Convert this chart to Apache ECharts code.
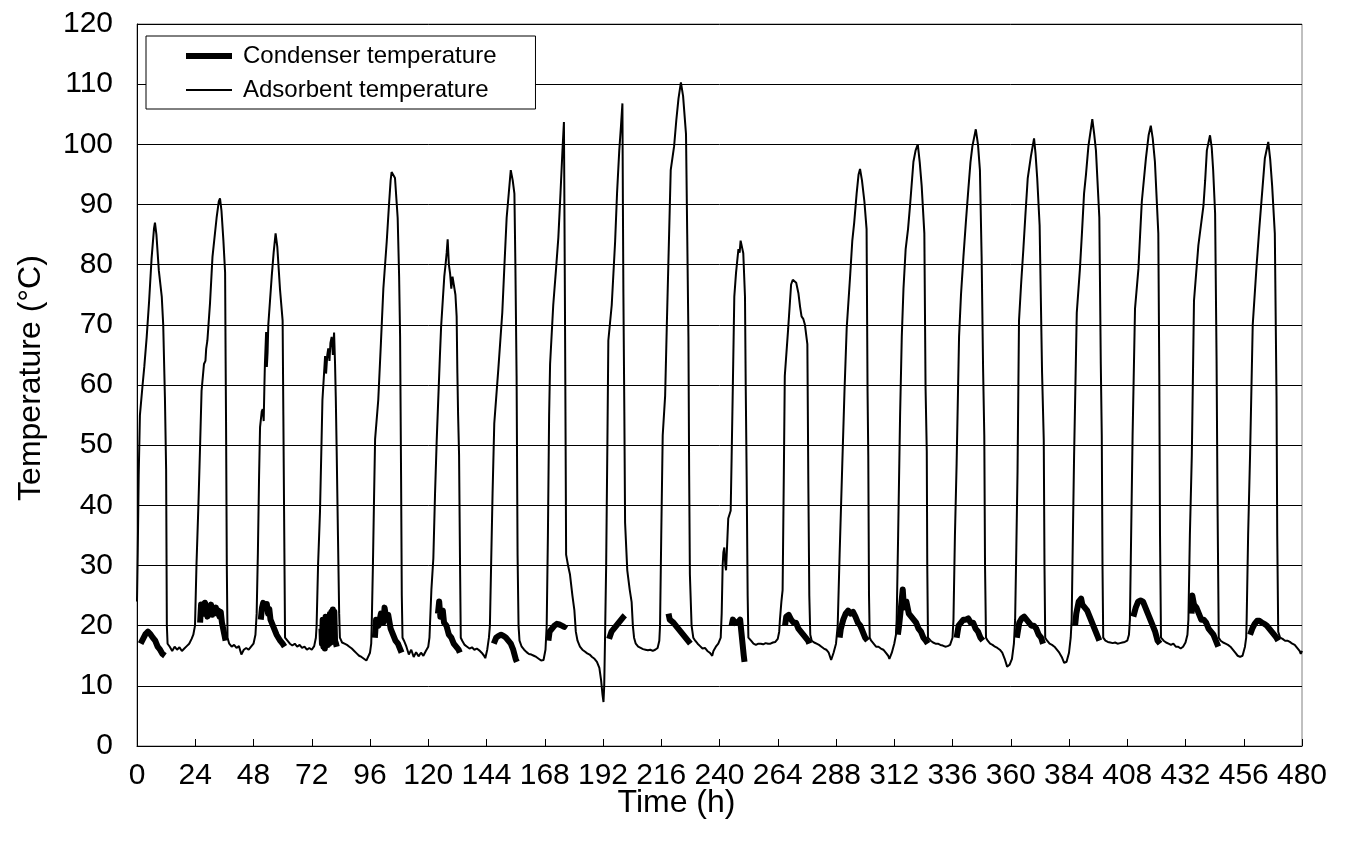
<!DOCTYPE html>
<html>
<head>
<meta charset="utf-8">
<script src="https://cdn.jsdelivr.net/npm/echarts@6/dist/echarts.min.js"></script>
<style>
html,body{margin:0;padding:0;background:#fff;}
#chart{width:1348px;height:845px;}
</style>
</head>
<body>
<div id="chart"></div>
<script>
// x-axis ticks (h) and y-axis range
const xTicks = [0,24,48,72,96,120,144,168,192,216,240,264,288,312,336,360,384,408,432,456,480];
const yRange = [0,120];

// Adsorbent temperature [time h, °C]
const adsorbent = [
[0,24],[0.3,32],[0.7,45],[1.2,55],[2.3,60],[3,63],[4,68],[5,74],[6,81],[7,86],[7.4,87],[8,85],[9,79],[10.2,74.7],[10.8,70],[11.5,58],[12,46],[12.3,20],[12.6,17],
[13.5,16.5],[14.5,15.8],[15.5,16.5],[16.5,16],[17.5,16.4],[18.5,15.8],[19.5,16.2],[20.5,16.6],[21.5,17],[22.5,17.8],[23.2,18.5],
[23.9,20],[24.5,30],[25.3,40],[26,50],[26.6,59],[27.6,63.5],[28.2,64],[28.5,66],[29,67.4],[30.1,73.7],[31.1,81.3],[32.8,87.8],[33.7,90.5],[34.2,91],[34.8,89],[35.6,84],[36.3,78.7],[36.5,65],[36.7,53],[37,30],[37.3,18],
[38,17],[39,16.5],[40,16.8],[41,16.3],[42,16.6],[43,15.2],[44,16],[45,16.3],[46,16],[47,16.5],[48,17],[48.8,18.5],
[49.3,22],[49.8,32],[50.3,45],[50.7,53],[51.4,55.6],[51.8,56],[52.2,54],[52.5,60],[52.7,63.5],[53.2,68.8],[53.5,63],[53.8,65.4],[54.1,70],[55.5,78],[56.3,82],[57.1,85.2],[57.8,83],[58.9,76],[60,70.7],[60.3,55],[60.6,39],[61,18],
[62,17.5],[63,17],[64,16.7],[65,17],[66,16.5],[67,16.8],[68,16.3],[69,16.5],[70,16],[71,16.3],[72,16],[73,16.6],[73.7,18],
[74,20],[74.6,30],[75.4,39],[76,50],[76.4,57.5],[77.5,64.8],[77.9,61.9],[78.4,65],[78.8,66.1],[79.3,64],[79.7,67],[80.2,68],[80.7,65],[81.2,68.7],[81.6,63.5],[81.9,58],[82.3,48.3],[82.8,35],[83.3,22],[83.6,18],
[84.5,17.2],[85.5,17],[86.5,16.8],[87.5,16.5],[88.5,16.2],[89.5,15.8],[90.5,15.4],[91.5,15],[92.5,14.8],[93.5,14.5],[94.5,14.2],[95.2,14],[96,15.5],[96.5,17],
[96.7,20],[97.2,30],[97.7,42],[98.1,51],[99.4,57.5],[100.5,67],[101.5,76],[102.9,83.9],[103.8,89.8],[104.5,94],[104.9,95.4],[106.3,94.4],[107.4,87.8],[108,78],[108.4,68],[108.8,45],[109.1,25],[109.4,18],
[110,17.5],[111,16.5],[112,15.2],[113,16],[114,14.8],[115,15.6],[116,14.9],[117,15.5],[118,15],[119,15.8],[120,16.5],[120.5,18],
[120.7,20],[121.3,26],[122.1,31.2],[122.8,42],[123.5,51],[124.8,64.8],[125.3,69.7],[126.6,78],[127.2,80.3],[127.6,82],[128,84.2],[128.5,80],[129,78.5],[129.5,76],[130,78],[130.5,78.3],[131.2,75],[131.7,71.4],[132,62],[132.3,55],[132.7,48.3],[133.1,30],[133.4,18],
[134,17.5],[135,16.8],[136,16.5],[137,16.2],[138,16.4],[139,16],[140,16.2],[141,15.9],[142,15.5],[143,15],[143.5,14.6],[144.3,16],[145,18],
[145.4,20],[145.9,30],[146.5,42],[147.2,53.6],[148.9,62.8],[150.5,72],[151.4,80],[152.3,87.8],[153.2,92],[154,95.7],[154.8,94],[155.5,91.8],[155.9,80],[156.4,61.5],[156.8,31.8],[157.2,20],[157.6,17.5],
[158.5,16.5],[159.5,16],[160.5,15.6],[161.5,15.3],[162.5,15.2],[163.5,15],[164.5,14.8],[165.5,14.5],[166.5,14.2],[167.5,14.3],[168.3,16],
[168.8,20],[169.3,35],[169.8,55],[170.2,63.5],[171.5,73.3],[172.6,79],[173.6,84.5],[174.5,92],[175.3,99],[175.9,103.7],[176.1,90],[176.3,74.7],[176.6,50],[176.8,31.8],[177.6,30],[178.4,28.5],[179.4,25],[180.2,22.6],[180.8,19],[181.5,17.5],
[182.5,16.5],[183.5,16],[184.5,15.7],[185.5,15.4],[186.5,15.2],[187.5,14.8],[188.5,14.5],[189.5,14],[190.5,13],[191.2,11],[191.8,8.5],[192.2,7.3],[192.5,10],[192.8,17],
[193.3,30],[193.8,50],[194.2,67.4],[195.6,73.3],[197,83.9],[197.8,92],[198.7,99],[199.4,103],[200,106.8],[200.2,90],[200.4,75.3],[200.8,55],[201.1,37.1],[202,29.2],[203,26],[203.8,23.9],[204.3,20],[204.8,18],
[205.5,17],[206.5,16.5],[207.5,16.3],[208.5,16.1],[209.5,16],[210.5,15.9],[211.5,16],[212.5,15.8],[213.5,16],[214.5,16.3],[215.2,17.5],
[215.5,20],[216,35],[216.6,51.6],[217.6,58.2],[218.3,70],[219,81.3],[219.9,95.7],[221.3,99.7],[222.2,104],[223.1,107.6],[224.1,110.3],[225,108],[226.2,101.7],[226.7,85],[227.2,68],[227.5,45],[227.8,28.5],[228.5,20],[229.2,18],
[230,17.5],[231,17],[232,16.6],[233,16.2],[234,16.3],[235,15.8],[236,15.5],[237,15],[237.5,15.8],[238.5,16.5],[239.5,17],[240.5,18],
[240.9,22],[241.3,30],[241.6,32.2],[242,33],[242.4,30],[242.7,29.2],[243.2,34],[243.6,37.8],[244.6,39.1],[245,48],[245.4,57.5],[246.1,74.7],[246.8,78.6],[247.8,82.6],[248.3,82],[248.7,84],[249.2,84.2],[249.8,81.9],[250.5,74.7],[250.8,60],[251.2,44.3],[251.6,25],[251.9,18],
[253,17.5],[254,17],[255,16.8],[256,17],[257,17],[258,16.9],[259,17.1],[260,17],[261,17],[262,17.2],[263,17.3],[264,17.8],[264.6,19],
[264.9,21],[265.5,24],[266,25.9],[266.5,45],[266.9,61.5],[268.3,69.4],[269.5,76.7],[270.2,77.5],[270.8,77.8],[271.6,77],[272.5,75.3],[273.2,73],[273.8,71.4],[274.5,71],[275.2,70],[276.2,66.8],[276.6,43.7],[277,25],[277.4,18.5],
[278,17.5],[279,17.2],[280,17],[281,16.8],[282,16.5],[283,16.2],[284,16],[285,15.5],[286,14.3],[287,15.5],[288,17],
[288.7,20],[289.5,32],[290.6,47],[291.5,59],[292.4,69.4],[293.8,78],[294.7,83.9],[295.5,87],[296.5,91.8],[297.3,95],[297.9,95.9],[298.7,94],[299.7,90.5],[300.6,85.9],[301,58.9],[301.3,48.3],[301.6,25],[301.9,18],
[302.5,17.5],[303.5,17],[304.5,16.5],[305.5,16.5],[306.5,16.2],[307.5,16],[308.5,15.5],[309.5,15],[310,14.5],[311,15.5],[312,17],[312.7,18.5],
[313,21],[313.6,35],[314.4,54.9],[315.1,68],[315.8,76],[316.7,82.6],[317.7,86],[318.5,89.8],[319.9,97.1],[320.8,99],[321.7,100],[322.5,97],[323.3,93.1],[324.4,85.2],[324.9,59.5],[325.4,49],[325.6,30],[325.9,18],
[327,17.5],[328,17.2],[329,17],[330,17],[331,16.8],[332,16.7],[333,16.5],[334,16.6],[335,16.8],[336,18],
[336.4,21],[337,35],[337.7,47],[338.7,68],[339.5,75],[340.5,81.3],[341.5,87],[342.5,92.4],[343.4,97],[344.2,99.7],[345.6,102.5],[346.5,100],[347.3,95.7],[348,81.3],[348.6,62.8],[349.1,51.6],[349.4,30],[349.8,18],
[350.5,17.5],[351.5,17],[352.5,16.8],[353.5,16.5],[354.5,16.3],[355.5,16],[356.5,15.5],[357.5,14.5],[358.5,13.2],[359.5,13.5],[360.5,14.5],[361.3,17],
[361.8,21],[362.3,33],[362.8,45.7],[363.4,70.7],[364.3,77],[365.2,82.6],[366,88],[367,94.4],[368.3,98],[369.6,101],[370.2,98.5],[370.9,94.4],[371.9,86.5],[372.9,62.1],[373.6,50.9],[373.9,30],[374.2,18],
[375,17.5],[376,17],[377,16.8],[378,16.5],[379,16],[380,15.5],[381,14.8],[382,13.8],[383,14],[384,15.5],[384.7,18],
[385.1,21],[385.6,35],[386.1,48.3],[387.2,72],[388.5,79.3],[389.3,85],[390.2,91.8],[391,95],[392,99.7],[393,102.5],[393.6,104.2],[394.3,102],[395.1,99],[396.5,87.8],[397.1,63.5],[397.5,51.6],[397.8,30],[398.1,18],
[399,17.5],[400,17.3],[401,17.2],[402,17.1],[403,17.2],[404,17],[405,17.1],[406,17.2],[407,17.3],[408,17.5],[408.7,18.5],
[409.1,21],[409.6,35],[410.2,51.6],[411.2,72.7],[412.6,79.3],[413.3,85],[414,90.5],[415.7,97.7],[416.8,101.5],[417.7,103.1],[418.5,101],[419.4,97.1],[420.8,85.2],[421.2,61.5],[421.5,35],[421.9,18],
[423,17.5],[424,17.2],[425,17],[426,16.8],[427,17],[428,16.5],[429,16.5],[430,16.2],[431,16.5],[432,17.2],[432.8,18.5],
[433.2,21],[433.8,35],[434.6,48.3],[435.5,74],[437.3,83.2],[439.4,89.8],[440.1,94],[440.8,99],[442.1,101.5],[442.8,99.5],[443.4,95.7],[444.2,88.5],[444.8,64.1],[445.2,40],[445.7,18],
[446.5,17.5],[447.5,17.2],[448.5,17],[449.5,16.8],[450.5,16.5],[451.5,16],[452.5,15.5],[453.5,15],[454.5,14.8],[455.5,15],[456.5,16.5],[457,18],
[457.2,21],[457.8,35],[458.6,48.3],[459.7,70],[461.3,79.9],[462.4,86],[463.4,91.1],[464.7,97.7],[466.1,100.4],[466.9,97.5],[467.7,93.1],[468.8,85.2],[469.5,58.2],[469.8,35],[470.2,19],
[471,18],[472,17.8],[473,17.5],[474,17.5],[475,17.3],[476,17],[477,16.8],[478,16.3],[479,15.8],[479.5,15.3],[480,15.8]
];

// Condenser temperature, one daytime segment per cycle [time h, °C]
const condenser1 = [[1.5,17],[2.5,17.8],[3.5,18.6],[4.5,19],[5.5,18.6],[6.5,18],[7.5,17.5],[8.5,16.5],[9.5,16],[10.5,15.3],[11.5,15]];
const condenser2 = [[26,20.5],[26.4,23.5],[27,23.8],[27.5,22],[28,23.8],[28.5,23.2],[29,21.5],[29.5,23],[30,22],[30.5,23.5],[31,21.8],[31.5,22.8],[32,22.3],[32.5,23],[33,22],[33.5,22.5],[34,21.5],[34.5,22.3],[35,20.5],[35.5,19.5],[36,18.5],[36.5,17.5]];
const condenser3 = [[51,21],[51.5,23],[52,23.8],[52.5,24],[53,23.2],[53.5,23.6],[54,22],[54.5,22.8],[55,21],[55.5,21.2],[56,20],[56.5,19.5],[57,19.2],[57.5,18.5],[58,18.3],[59,17.5],[60,17],[60.8,16.5]];
const condenser4 = [[76,19.5],[76.2,17],[76.5,21],[76.8,16.5],[77.1,20.5],[77.4,16.2],[77.7,21.5],[78,17],[78.3,21],[78.6,16.8],[78.9,21.5],[79.2,17],[79.5,22],[79.8,17.2],[80.1,22.3],[80.4,17.5],[80.7,22.7],[81,18],[81.3,22.3],[81.6,17.5],[82,17],[82.3,16.5]];
const condenser5 = [[98,18],[98.5,21],[99.5,20],[100.5,22],[101.5,20.5],[102,23],[102.8,21],[103.5,21.8],[104.5,19.5],[105.5,18.5],[106.5,17.5],[107.5,17],[108.5,16],[109,15.5]];
const condenser6 = [[124,22],[124.5,24],[125,21.5],[126,22.5],[126.5,20.5],[127.5,20],[128.5,18.5],[129.5,18],[130.5,17],[131.5,16.5],[132.5,16],[133,15.5]];
const condenser7 = [[147,17],[148,18],[149,18.3],[150,18.5],[151,18.3],[152,18],[153,17.5],[154,17],[155,16],[156,14.5],[156.5,14]];
const condenser8 = [[169.5,17.5],[170,19],[171,19.5],[172,20],[173,20.3],[174,20.2],[175,20],[176,19.8],[176.6,20.2]];
const condenser9 = [[194.5,17.8],[195.5,19],[196.5,19.5],[197.5,20],[198.5,20.5],[199.5,21],[200.5,21.5],[201,21.7]];
const condenser10 = [[219,22],[219.5,21],[221,20.5],[222,20],[223,19.5],[224,19],[225,18.5],[226,18],[227,17.5],[228,17]];
const condenser11 = [[245,20],[245.5,21],[246.5,20.5],[247.5,20.5],[248.5,21],[249,19],[249.5,17],[250,15],[250.3,14]];
const condenser12 = [[267,20],[267.5,21.5],[268.5,21.8],[269.5,21],[270.5,20.5],[271.5,20.5],[272.5,19.5],[273.5,19],[274.5,18.5],[275.5,18],[276.5,17.5],[277,17]];
const condenser13 = [[289.5,18],[290,19.5],[291,21],[292,22],[293,22.5],[294,22],[295,22.3],[296,21.5],[297,20.5],[298,20],[299,19],[300,18],[301,17.5]];
const condenser14 = [[313.5,18.5],[314,20],[315,24],[315.5,26],[316,23],[317,24],[318,22],[319,21.5],[320,21],[321,20.5],[322,19.5],[323,19],[324,18],[325,17.5],[325.8,17]];
const condenser15 = [[337.7,18],[338.5,20],[339.5,20.5],[340.5,21],[341.5,21],[342.5,21.2],[343.5,20.5],[344.5,20.5],[345.5,19.5],[346.5,19],[347.5,18],[348.5,17.5]];
const condenser16 = [[362.5,18],[363.5,20.5],[364.5,21.2],[365.5,21.5],[366.5,21],[367.5,20.5],[368.5,20],[369.5,20],[370.5,19.5],[371.5,18.5],[372.5,18],[373.3,17]];
const condenser17 = [[386.5,20],[387,22],[388,24],[389,24.5],[389.5,23.5],[390.5,23],[391.5,22.5],[392.5,21.5],[393.5,20.5],[394.5,19.5],[395.5,18.5],[396.5,17.5]];
const condenser18 = [[410.5,21.5],[411.5,23],[412.5,24],[413.5,24.2],[414.5,24],[415.5,23],[416.5,22],[417.5,21],[418.5,20],[419.5,19],[420.5,17.5],[421.5,17]];
const condenser19 = [[434.5,22],[434.8,25],[435.5,23.5],[436.5,23],[437.5,22],[438.5,21],[439.5,21],[440.5,20.5],[441.5,19.5],[442.5,19],[443.5,18.5],[444.5,17.5],[445.5,16.5]];
const condenser20 = [[458.6,18.5],[459.5,19.5],[460.5,20.3],[461.5,20.8],[462.5,20.8],[463.5,20.5],[464.5,20.3],[465.5,20],[466.5,19.5],[467.5,19],[468.5,18.5],[469.5,18],[470.2,17.5]];

const condenserSegments = [condenser1,condenser2,condenser3,condenser4,condenser5,condenser6,condenser7,condenser8,condenser9,condenser10,
  condenser11,condenser12,condenser13,condenser14,condenser15,condenser16,condenser17,condenser18,condenser19,condenser20];

const FONT = '"Liberation Sans", Arial, sans-serif';
const chart = echarts.init(document.getElementById('chart'), null, {renderer: 'canvas'});

const series = [];
condenserSegments.forEach(function(seg){
  series.push({
    name: 'Condenser temperature', type: 'line', data: seg, showSymbol: false, symbol: 'none',
    lineStyle: {color: '#000', width: 6, join: 'round', cap: 'butt'}, itemStyle: {color: '#000'}, z: 3, silent: true, animation: false
  });
});
series.push({
  name: 'Adsorbent temperature', type: 'line', data: adsorbent, showSymbol: false, symbol: 'none',
  lineStyle: {color: '#000', width: 2}, itemStyle: {color: '#000'}, z: 2, silent: true, animation: false
});

chart.setOption({
  animation: false,
  backgroundColor: '#fff',
  textStyle: {fontFamily: FONT, color: '#000'},
  grid: {left: 137, right: 46, top: 24, bottom: 99, show: true, borderColor: '#808080', borderWidth: 1, backgroundColor: 'transparent'},
  legend: {
    show: true, orient: 'vertical', left: 146, top: 36,
    data: ['Condenser temperature', 'Adsorbent temperature'],
    backgroundColor: '#fff', borderColor: '#000', borderWidth: 1, borderRadius: 0,
    padding: [6, 39, 5, 37], itemGap: 6, itemWidth: 46, itemHeight: 14,
    lineStyle: {width: 'inherit'},
    itemStyle: {opacity: 0},
    textStyle: {fontFamily: FONT, fontSize: 24, lineHeight: 28, color: '#000', padding: [0,0,0,6]},
    selectedMode: false
  },
  xAxis: {
    type: 'value', min: 0, max: 480, interval: 24,
    name: 'Time (h)', nameLocation: 'middle', nameGap: 41, nameMoveOverlap: false,
    nameTextStyle: {fontFamily: FONT, fontSize: 32, color: '#000', padding: [0, 86, 0, 0]},
    axisLine: {show: true, onZero: false, lineStyle: {color: '#000', width: 1}},
    axisTick: {show: true, inside: true, length: 7, lineStyle: {color: '#000'}},
    axisLabel: {show: true, fontFamily: FONT, fontSize: 30, color: '#000', margin: 15,
      customValues: xTicks},
    splitLine: {show: false}
  },
  yAxis: {
    type: 'value', min: yRange[0], max: yRange[1], interval: 10,
    name: 'Temperature (°C)', nameLocation: 'middle', nameGap: 90, nameRotate: 90, nameMoveOverlap: false,
    nameTextStyle: {fontFamily: FONT, fontSize: 32, color: '#000', padding: [0, 0, 0, 14]},
    axisLine: {show: true, lineStyle: {color: '#000', width: 1}},
    axisTick: {show: true, inside: true, length: 7, lineStyle: {color: '#000'}},
    axisLabel: {show: true, fontFamily: FONT, fontSize: 30, color: '#000', margin: 24},
    splitLine: {show: true, lineStyle: {color: '#000', width: 1}}
  },
  series: series
});
</script>
</body>
</html>
